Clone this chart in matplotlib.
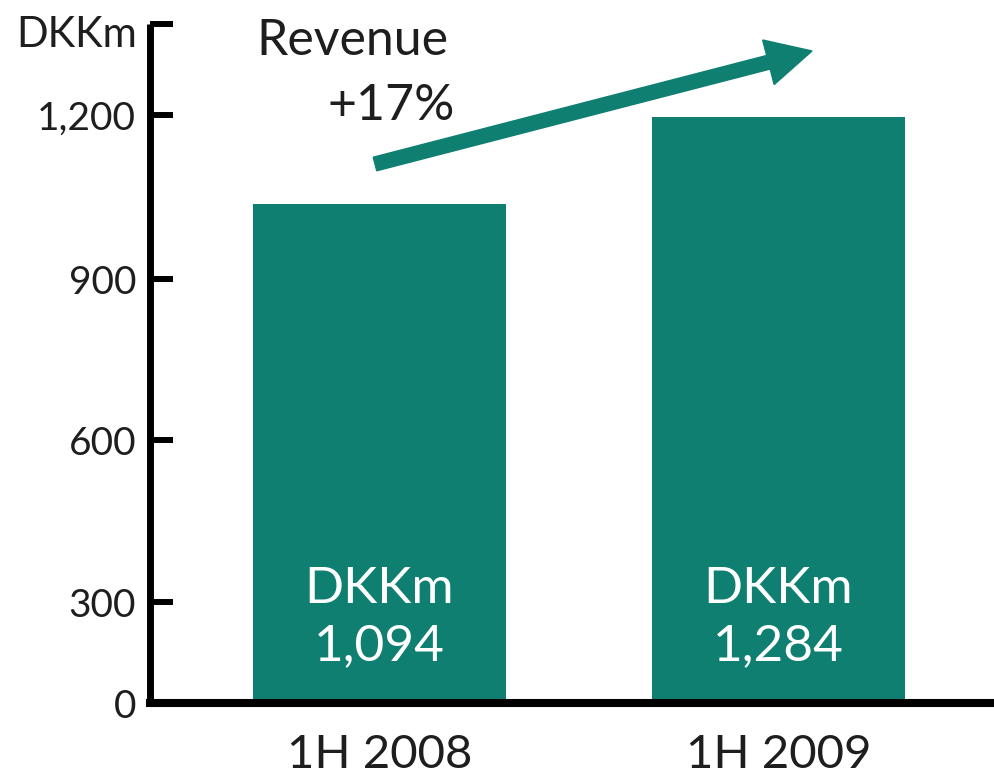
import matplotlib
matplotlib.use("Agg")
import matplotlib.pyplot as plt
import matplotlib.patches as mpatches

# ---- data ----
categories = ["1H 2008", "1H 2009"]
values = [1094, 1284]
bar_texts = ["DKKm\n1,094", "DKKm\n1,284"]
ytick_labels = ["0", "300", "600", "900", "1,200", ""]
# positions of the printed tick marks as drawn in the original (not linear with labels)
ytick_pos = [0, 221, 576, 929, 1288, 1488]
unit_label = "DKKm"
growth_title = "Revenue"
growth_text = "+17%"

TEAL = "#0e7f71"
TXT = "#1e1e1e"
plt.rcParams["font.family"] = ["Lato", "DejaVu Sans"]

W, H = 994, 775
fig = plt.figure(figsize=(W / 100, H / 100), dpi=100)
ax = fig.add_axes([150 / W, (H - 703) / H, (W - 150) / W, (703 - 24) / H])

x = list(range(len(categories)))
ax.bar(x, values, width=0.634, color=TEAL, zorder=2)
ax.set_xlim(-0.575, 1.54)
ax.set_ylim(0, 1488)

for xi, t in zip(x, bar_texts):
    ax.text(xi, 0.126, t, transform=ax.get_xaxis_transform(), ha="center",
            va="center", color="white", fontsize=37, linespacing=1.3, zorder=3)

for s in ["top", "right"]:
    ax.spines[s].set_visible(False)
ax.spines["left"].set_linewidth(5.0)
ax.spines["bottom"].set_linewidth(5.8)
ax.spines["left"].set_capstyle("butt")

ax.set_yticks(ytick_pos)
ax.set_yticklabels(ytick_labels)
ax.tick_params(axis="y", direction="in", length=16.5, width=4.3, pad=10,
               labelsize=28, labelcolor=TXT, color="black")
ax.set_xticks(x)
ax.set_xticklabels(categories)
ax.tick_params(axis="x", length=0, pad=22, labelsize=34, labelcolor=TXT)

fig.text(137 / W, (H - 47) / H, unit_label, ha="right", va="baseline",
         fontsize=30, color=TXT)
fig.text(448 / W, (H - 55) / H, growth_title, ha="right", va="baseline",
         fontsize=36, color=TXT)
fig.text(455 / W, (H - 120) / H, growth_text, ha="right", va="baseline",
         fontsize=36, color=TXT)

arrow = mpatches.FancyArrow(3.75, (H - 164) / 100, 4.37, 1.13, width=0.14,
                            head_width=0.46, head_length=0.45,
                            length_includes_head=True, color=TEAL,
                            transform=fig.dpi_scale_trans)
fig.patches.append(arrow)

fig.savefig("out.png", dpi=100)
